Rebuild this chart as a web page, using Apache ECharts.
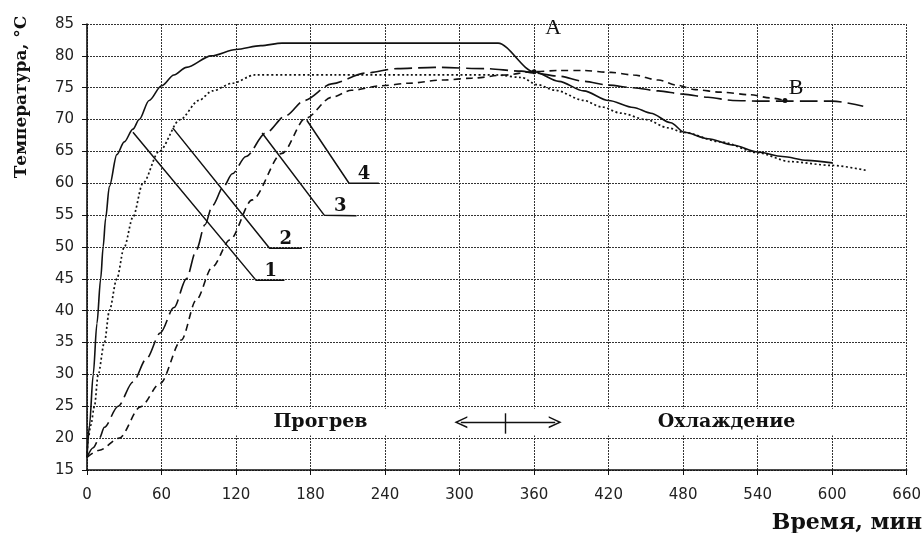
<!DOCTYPE html>
<html>
<head>
<meta charset="utf-8">
<script src="https://cdn.jsdelivr.net/npm/echarts@6/dist/echarts.min.js"></script>
<style>
html,body{margin:0;padding:0;background:#fff;}
#chart{width:924px;height:533px;}
</style>
</head>
<body>
<div id="chart"></div>
<script>
// ---- data (time in minutes, temperature in °C) ----
var time1 = [0, 2, 5, 8, 11, 13, 15, 18, 24, 30, 37, 42, 50, 60, 70, 80, 100, 120, 140, 157, 200, 260, 331, 360, 380, 400, 420, 440, 454, 470, 481, 500, 520, 540, 560, 580, 600];
var temp1 = [17, 22, 30, 38, 45, 50, 54.5, 59.5, 64.5, 66.5, 68.5, 70, 73, 75.3, 77, 78.2, 80, 81, 81.6, 82, 82, 82, 82, 77.5, 76, 74.5, 73, 71.9, 71, 69.5, 68, 67, 66, 64.9, 64.2, 63.6, 63.2];

var time2 = [0, 1, 3, 6, 9, 14, 18, 24, 30, 37, 45, 58, 75, 90, 101, 117, 135, 200, 260, 330, 350, 362, 377, 400, 414, 430, 450, 468, 480, 510, 540, 566, 600, 628];
var temp2 = [17, 20, 22, 25, 30, 35, 40, 45, 50, 54.7, 60, 65, 70, 73, 74.5, 75.7, 77, 77, 77, 77, 76.6, 75.5, 74.6, 73, 72, 71, 70, 68.7, 68, 66.5, 64.8, 63.4, 62.8, 62];

var time3 = [0, 5, 10, 14, 25, 37, 48, 59, 70, 80, 88, 95, 101, 110, 117, 128, 144, 160, 175, 197, 224, 250, 280, 320, 350, 360, 380, 400, 420, 440, 460, 480, 500, 520, 540, 560, 580, 600, 625];
var temp3 = [17, 18.5, 20, 21.7, 25, 28.8, 32.5, 36.5, 40.5, 45, 49.5, 53.5, 56.5, 59.5, 61.5, 64.2, 67.9, 70.6, 73, 75.6, 77.3, 78, 78.2, 78, 77.6, 77.3, 76.8, 76, 75.4, 75, 74.5, 74, 73.5, 73, 72.9, 72.9, 72.9, 72.9, 72.1];

var time4 = [0, 10, 26, 43, 59, 76, 88, 101, 115, 133, 157, 176, 197, 213, 237, 259, 286, 310, 337, 358, 380, 400, 422, 440, 460, 475, 490, 510, 534, 550, 562];
var temp4 = [17, 18.1, 20, 24.9, 28.6, 35.4, 41.7, 46.9, 51.1, 57.4, 64.7, 70.2, 73.5, 74.6, 75.3, 75.7, 76.2, 76.5, 77, 77.5, 77.7, 77.7, 77.4, 77, 76.2, 75.4, 74.7, 74.3, 73.9, 73.4, 73.0];

// marked points A and B
var pointNames = ['A', 'B'];
var pointTimes = [360, 562];
var pointTemps = [77.5, 73.0];

// curve number leaders: [curve point, elbow, end of shelf]
var leaderNames = ['1', '2', '3', '4'];
var leaderTimes = [[37, 136, 159], [69, 147, 173], [141, 191, 217], [177, 211, 235]];
var leaderTemps = [[68.0, 44.8, 44.8], [68.7, 49.8, 49.8], [67.9, 55.0, 54.9], [69.9, 60.0, 60.0]];
var leaderLabelTimes = [148, 160, 204, 223];

// phase captions
var phaseNames = ['Прогрев', 'Охлаждение'];
var phaseTimes = [188, 515];
var phaseTemp = 22.5;
var bandTimes = [90, 655];
var bandTemps = [20.4, 24.6];
var arrowTimes = [301, 377];
var arrowMid = 337;
var arrowTickTemps = [23.9, 20.7];

// ---- helpers ----
function zip(a, b) { return a.map(function (v, i) { return [v, b[i]]; }); }

var ink = '#111';
var serif = '"DejaVu Serif", "Liberation Serif", serif';
var chevron = 'path://M0,12 L6,0 L12,12 L10.4,12 L6,3.2 L1.6,12 Z';

var series = [];

// white caption band
series.push({
  type: 'line', data: [], silent: true,
  markArea: {
    silent: true,
    itemStyle: { color: '#fff', opacity: 1 },
    data: [[{ coord: [bandTimes[0], bandTemps[0]] }, { coord: [bandTimes[1], bandTemps[1]] }]]
  }
});

function curve(name, t, T, dash, w) {
  return {
    name: name, type: 'line', data: zip(t, T), symbol: 'none',
    smooth: 0.3, smoothMonotone: 'x', silent: true,
    lineStyle: { color: ink, width: w, type: dash }
  };
}
series.push(curve('1', time1, temp1, 'solid', 1.6));
series.push(curve('2', time2, temp2, [2, 2.5], 1.7));
series.push(curve('3', time3, temp3, [18, 6], 1.6));
series.push(curve('4', time4, temp4, [7, 5], 1.6));

// leader lines
leaderNames.forEach(function (n, i) {
  series.push({
    type: 'line', data: zip(leaderTimes[i], leaderTemps[i]), symbol: 'none', silent: true,
    lineStyle: { color: ink, width: 1.5 }
  });
});

// leader numbers
series.push({
  type: 'scatter', silent: true, symbolSize: 0,
  itemStyle: { opacity: 1, color: ink },
  data: leaderNames.map(function (n, i) { return { value: [leaderLabelTimes[i], leaderTemps[i][2]], name: n }; }),
  label: {
    show: true, position: 'top', distance: 0, formatter: '{b}',
    color: ink, fontFamily: serif, fontWeight: 'bold', fontSize: 18
  }
});

// A / B points
series.push({
  type: 'scatter', silent: true, symbol: 'circle', symbolSize: 5,
  itemStyle: { color: ink, opacity: 1 },
  data: pointNames.map(function (n, i) {
    return {
      value: [pointTimes[i], pointTemps[i]], name: n,
      label: { offset: i === 0 ? [19, -44] : [11, -12] }
    };
  }),
  label: {
    show: true, position: 'inside', formatter: '{b}',
    color: ink, fontFamily: '"Liberation Serif", serif', fontSize: 22
  }
});

// phase captions with arrow
series.push({
  type: 'scatter', silent: true, symbolSize: 0,
  itemStyle: { opacity: 1, color: ink },
  data: phaseNames.map(function (n, i) { return { value: [phaseTimes[i], phaseTemp], name: n }; }),
  label: {
    show: true, position: 'inside', formatter: '{b}',
    color: ink, fontFamily: serif, fontWeight: 'bold', fontSize: 19
  },
  markLine: {
    silent: true, animation: false,
    label: { show: false },
    lineStyle: { color: ink, width: 1.4, type: 'solid', opacity: 1 },
    data: [
      [{ coord: [arrowTimes[0], phaseTemp], symbol: chevron, symbolSize: [12, 13] },
       { coord: [arrowTimes[1], phaseTemp], symbol: chevron, symbolSize: [12, 13] }],
      [{ coord: [arrowMid, arrowTickTemps[0]], symbol: 'none' },
       { coord: [arrowMid, arrowTickTemps[1]], symbol: 'none' }]
    ]
  }
});

var gridLine = { show: true, lineStyle: { color: '#333', width: 1, type: [2, 1] } };
var tickLabel = { color: '#222', fontFamily: '"DejaVu Sans", sans-serif', fontSize: 15 };

var option = {
  backgroundColor: '#fff',
  animation: false,
  grid: { left: 87, right: 14, top: 24, bottom: 63, containLabel: false },
  xAxis: {
    type: 'value', min: 0, max: 660, interval: 60,
    axisLine: { show: true, onZero: false, lineStyle: { color: ink, width: 1.6 } },
    axisTick: { show: true, length: 5, lineStyle: { color: ink } },
    axisLabel: Object.assign({ margin: 18 }, tickLabel),
    splitLine: gridLine
  },
  yAxis: {
    type: 'value', min: 15, max: 85, interval: 5,
    axisLine: { show: true, onZero: false, lineStyle: { color: ink, width: 1.6 } },
    axisTick: { show: true, length: 5, lineStyle: { color: ink } },
    axisLabel: Object.assign({ margin: 13 }, tickLabel),
    splitLine: gridLine
  },
  graphic: [
    {
      type: 'text', x: 22, y: 97, rotation: Math.PI / 2,
      style: {
        text: 'Температура, °С', fill: ink,
        font: 'bold 17px ' + serif,
        textAlign: 'center', textVerticalAlign: 'middle',
        align: 'center', verticalAlign: 'middle'
      }
    },
    {
      type: 'text', x: 922, y: 523,
      style: {
        text: 'Время, мин', fill: ink,
        font: 'bold 22px ' + serif,
        textAlign: 'right', textVerticalAlign: 'middle',
        align: 'right', verticalAlign: 'middle'
      }
    }
  ],
  series: series
};

var chart = echarts.init(document.getElementById('chart'), null, { renderer: 'canvas' });
chart.setOption(option);
</script>
</body>
</html>
